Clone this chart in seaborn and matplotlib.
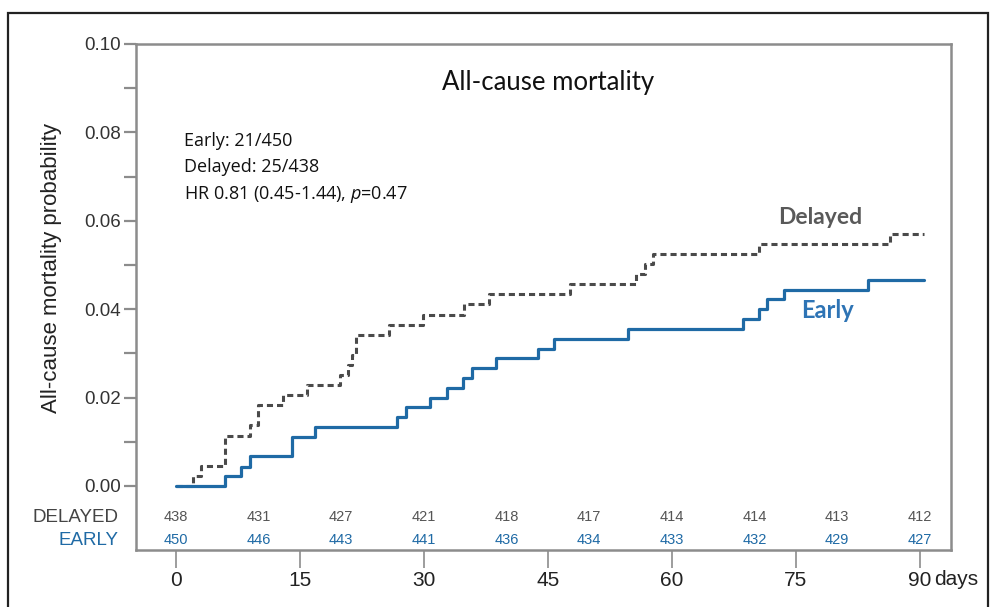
import matplotlib
matplotlib.use('Agg')
import numpy as np
import pandas as pd
import matplotlib.pyplot as plt
import seaborn as sns
from matplotlib.patches import Rectangle
from matplotlib.transforms import blended_transform_factory

# Kaplan-Meier style cumulative mortality
early_days = [0, 5.9, 7.9, 9.0, 14.0, 16.8, 26.8, 27.8, 30.8, 32.8, 34.7, 35.8,
              38.7, 43.8, 45.8, 54.7, 68.6, 70.6, 71.5, 73.6, 83.7, 90.5]
early_prob = [0, 0.0022, 0.0044, 0.0067, 0.0111, 0.0133, 0.0156, 0.0178, 0.0200,
              0.0222, 0.0244, 0.0267, 0.0289, 0.0311, 0.0333, 0.0356, 0.0378,
              0.0400, 0.0422, 0.0444, 0.0467, 0.0467]

delayed_days = [0, 2.0, 3.0, 5.9, 9.0, 9.9, 13.0, 15.9, 19.9, 20.8, 21.3, 21.8,
                25.8, 29.9, 34.9, 37.9, 47.7, 55.7, 56.8, 57.7, 70.6, 86.4, 90.5]
delayed_prob = [0, 0.0023, 0.0046, 0.0114, 0.0137, 0.0183, 0.0205, 0.0228, 0.0251,
                0.0274, 0.0297, 0.0342, 0.0365, 0.0388, 0.0411, 0.0434, 0.0457,
                0.0479, 0.0502, 0.0525, 0.0548, 0.0571, 0.0571]

# numbers at risk
risk_days = [0, 10, 20, 30, 40, 50, 60, 70, 80, 90]
risk_delayed = [438, 431, 427, 421, 418, 417, 414, 414, 413, 412]
risk_early = [450, 446, 443, 441, 436, 434, 433, 432, 429, 427]

x_ticks = [0, 15, 30, 45, 60, 75, 90]
x_tick_labels = ['0', '15', '30', '45', '60', '75', '90']
y_ticks = [0.00, 0.02, 0.04, 0.06, 0.08, 0.10]

BLUE = '#1f6aa5'
GRAY = '#4a4a4a'
AXC = '#8c8c8c'

sns.set_theme(style='white')
plt.rcParams['font.family'] = ['Liberation Sans', 'DejaVu Sans']
plt.rcParams['mathtext.fontset'] = 'custom'
plt.rcParams['mathtext.it'] = 'Open Sans:italic'
plt.rcParams['mathtext.rm'] = 'Open Sans'
CAL = ['Lato', 'DejaVu Sans']
OPEN = ['Open Sans', 'DejaVu Sans']

fig = plt.figure(figsize=(9.9, 6.07), dpi=100)
ax = fig.add_axes([136 / 990, 1 - 550 / 607, 815 / 990, 506 / 607])

early_df = pd.DataFrame({'day': early_days, 'prob': early_prob})
delayed_df = pd.DataFrame({'day': delayed_days, 'prob': delayed_prob})

sns.lineplot(data=delayed_df, x='day', y='prob', ax=ax, color=GRAY,
             drawstyle='steps-post', linewidth=2.2, linestyle=(0, (2.0, 1.3)),
             errorbar=None)
sns.lineplot(data=early_df, x='day', y='prob', ax=ax, color=BLUE,
             drawstyle='steps-post', linewidth=2.3, errorbar=None)

ax.set_xlim(-4.84, 93.8)
ax.set_ylim(-0.01448, 0.10)

ax.set_yticks(y_ticks)
ax.set_yticklabels([f'{v:.2f}' for v in y_ticks], fontsize=13.5, color='#333333')
ax.set_yticks(np.arange(0.01, 0.10, 0.02), minor=True)
ax.set_xticks(x_ticks)
ax.set_xticklabels(x_tick_labels, fontsize=15, color='#222222')
ax.tick_params(axis='y', which='both', direction='out', length=9, width=1.6,
               color=AXC, left=True, pad=2)
ax.tick_params(axis='x', which='major', direction='out', length=13, width=1.2,
               color=AXC, bottom=True, pad=2)

for s in ax.spines.values():
    s.set_color(AXC)
    s.set_linewidth(1.8)
    s.set_visible(True)

tr = blended_transform_factory(ax.transData, ax.transAxes)
# unit after the last tick label
ax.text(91.7, -0.0575, 'days', transform=tr, ha='left', va='center',
        fontsize=15, color='#222222')

ax.set_xlabel('')
ax.set_ylabel('All-cause mortality probability', fontsize=16, color='#222222')
ax.yaxis.set_label_coords(-0.091, 0.557)

ax.text(0.5055, 0.923, 'All-cause mortality', transform=ax.transAxes,
        ha='center', va='center', fontsize=18.5, color='#111111', family=CAL)

ax.text(0.059, 0.808, 'Early: 21/450', transform=ax.transAxes, ha='left',
        va='center', fontsize=13, color='#111111', family=OPEN)
ax.text(0.059, 0.757, 'Delayed: 25/438', transform=ax.transAxes, ha='left',
        va='center', fontsize=13, color='#111111', family=OPEN)
ax.text(0.059, 0.703, 'HR 0.81 (0.45-1.44), $\\it{p}$=0.47', transform=ax.transAxes,
        ha='left', va='center', fontsize=13, color='#111111', family=OPEN)

ax.text(78.0, 0.0607, 'Delayed', ha='center', va='center', fontsize=16.5,
        fontweight='bold', color='#595959', family=CAL)
ax.text(78.8, 0.0398, 'Early', ha='center', va='center', fontsize=17,
        fontweight='bold', color='#2e74b5', family=CAL)

# at-risk table inside the axes box
for d, n_del, n_ear in zip(risk_days, risk_delayed, risk_early):
    ax.text(d, 0.065, str(n_del), transform=tr, ha='center', va='center',
            fontsize=10.5, color='#555555')
    ax.text(d, 0.019, str(n_ear), transform=tr, ha='center', va='center',
            fontsize=10.5, color=BLUE)
ax.text(-0.022, 0.065, 'DELAYED', transform=ax.transAxes, ha='right', va='center',
        fontsize=13.5, color='#444444')
ax.text(-0.022, 0.019, 'EARLY', transform=ax.transAxes, ha='right', va='center',
        fontsize=13.5, color=BLUE)

# outer frame of the panel
fig.patches.append(Rectangle((8 / 990, -0.02), 980 / 990, 1 - 13 / 607 + 0.02,
                             transform=fig.transFigure, fill=False,
                             edgecolor='#222222', linewidth=1.6))

fig.savefig('out.png', dpi=100)
